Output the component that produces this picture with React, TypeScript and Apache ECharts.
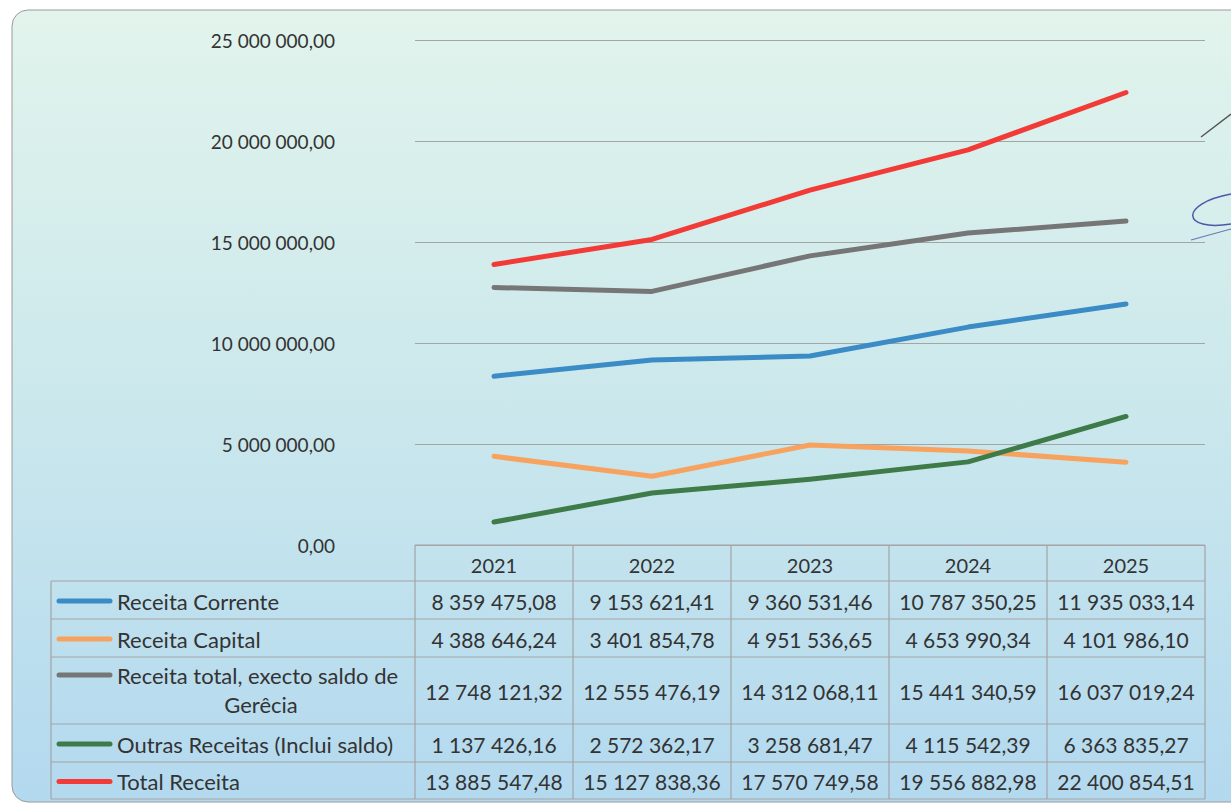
import React, { useEffect, useRef } from "react";
import * as echarts from "echarts";

const years = ["2021", "2022", "2023", "2024", "2025"];
const receitaCorrente = [8359475.08, 9153621.41, 9360531.46, 10787350.25, 11935033.14];
const receitaCapital = [4388646.24, 3401854.78, 4951536.65, 4653990.34, 4101986.1];
const receitaTotalSemSaldo = [12748121.32, 12555476.19, 14312068.11, 15441340.59, 16037019.24];
const outrasReceitas = [1137426.16, 2572362.17, 3258681.47, 4115542.39, 6363835.27];
const totalReceita = [13885547.48, 15127838.36, 17570749.58, 19556882.98, 22400854.51];

const seriesNames = [
  ["Receita Corrente"],
  ["Receita Capital"],
  ["Receita total, execto saldo de", "Gerêcia"],
  ["Outras Receitas (Inclui saldo)"],
  ["Total Receita"],
];
const seriesData = [receitaCorrente, receitaCapital, receitaTotalSemSaldo, outrasReceitas, totalReceita];
const seriesColors = ["#3b8bc6", "#f7a35f", "#767676", "#3f7b48", "#f23b36"];

const yTicks = { min: 0, max: 25000000, interval: 5000000 };

function fmt(v: number): string {
  const [i, d] = v.toFixed(2).split(".");
  return i.replace(/\B(?=(\d{3})+(?!\d))/g, " ") + "," + d;
}

const FONT = "Lato, 'Open Sans', sans-serif";
const TEXT = "#333333";
const BORDER = "#a3a3a3";

export default function App() {
  const ref = useRef<HTMLDivElement>(null);
  useEffect(() => {
    if (!ref.current) return;
    const chart = echarts.init(ref.current, null, { renderer: "svg" });

    const plotLeft = 415;
    const plotRight = 1205;
    const tableTop = 545;
    const colW = (plotRight - plotLeft) / years.length;
    const labelLeft = 51;
    const rowLines = [545, 581, 619, 657, 724, 762, 799];

    const g: any[] = [];
    g.push({
      type: "rect",
      z: -10,
      silent: true,
      shape: { x: 12, y: 10, width: 1260, height: 792, r: 16 },
      style: {
        fill: new echarts.graphic.LinearGradient(0, 0, 0, 1, [
          { offset: 0, color: "#e2f4ec" },
          { offset: 0.45, color: "#cde9ec" },
          { offset: 1, color: "#b3d9ef" },
        ]),
        stroke: "#9a9a9a",
        lineWidth: 1,
      },
    });

    rowLines.forEach((y, i) => {
      g.push({
        type: "line",
        silent: true,
        shape: { x1: i === 0 ? plotLeft : labelLeft, y1: y, x2: plotRight, y2: y },
        style: { stroke: BORDER, lineWidth: 1.2 },
      });
    });
    g.push({
      type: "line",
      silent: true,
      shape: { x1: labelLeft, y1: rowLines[1], x2: labelLeft, y2: rowLines[6] },
      style: { stroke: BORDER, lineWidth: 1.2 },
    });
    for (let c = 0; c <= years.length; c++) {
      const x = plotLeft + c * colW;
      g.push({
        type: "line",
        silent: true,
        shape: { x1: x, y1: tableTop, x2: x, y2: rowLines[6] },
        style: { stroke: BORDER, lineWidth: 1.2 },
      });
    }

    seriesData.forEach((data, r) => {
      const y0 = rowLines[r + 1];
      const y1 = rowLines[r + 2];
      const cy = (y0 + y1) / 2 + 1;
      const names = seriesNames[r];
      const swY = names.length > 1 ? y0 + 18 : cy;
      g.push({
        type: "line",
        silent: true,
        shape: { x1: 59, y1: swY, x2: 110, y2: swY },
        style: { stroke: seriesColors[r], lineWidth: 5, lineCap: "round" },
      });
      if (names.length > 1) {
        g.push({
          type: "text",
          silent: true,
          style: { text: names[0], x: 117, y: y0 + 18, fill: TEXT, font: `22px ${FONT}`, align: "left", verticalAlign: "middle" },
        });
        g.push({
          type: "text",
          silent: true,
          style: { text: names[1], x: 261, y: y0 + 47, fill: TEXT, font: `22px ${FONT}`, align: "center", verticalAlign: "middle" },
        });
      } else {
        g.push({
          type: "text",
          silent: true,
          style: { text: names[0], x: 117, y: cy, fill: TEXT, font: `22px ${FONT}`, align: "left", verticalAlign: "middle" },
        });
      }
      data.forEach((v, c) => {
        g.push({
          type: "text",
          silent: true,
          style: {
            text: fmt(v),
            x: plotLeft + (c + 0.5) * colW,
            y: cy,
            fill: TEXT,
            font: `21px ${FONT}`,
            align: "center",
            verticalAlign: "middle",
          },
        });
      });
    });

    g.push({
      type: "line",
      silent: true,
      shape: { x1: 1201, y1: 137, x2: 1231, y2: 114 },
      style: { stroke: "#555555", lineWidth: 1.5 },
    });
    g.push({
      type: "bezierCurve",
      silent: true,
      shape: { x1: 1231, y1: 194, cpx1: 1178, cpy1: 204, cpx2: 1182, cpy2: 232, x2: 1231, y2: 224 },
      style: { stroke: "#4a58a8", lineWidth: 1.5, fill: "none" },
    });
    g.push({
      type: "line",
      silent: true,
      shape: { x1: 1191, y1: 240, x2: 1231, y2: 229 },
      style: { stroke: "#6a76b6", lineWidth: 1.2 },
    });

    chart.setOption({
      animation: false,
      backgroundColor: "#ffffff",
      grid: { left: plotLeft, right: 1231 - plotRight, top: 40, bottom: 807 - tableTop, containLabel: false },
      xAxis: {
        type: "category",
        data: years,
        boundaryGap: true,
        axisLine: { show: false },
        axisTick: { show: false },
        axisLabel: { margin: 10, fontSize: 20, fontFamily: FONT, color: TEXT },
        splitLine: { show: false },
      },
      yAxis: {
        type: "value",
        min: yTicks.min,
        max: yTicks.max,
        interval: yTicks.interval,
        axisLine: { show: false },
        axisTick: { show: false },
        axisLabel: {
          margin: 80,
          fontSize: 19,
          fontFamily: FONT,
          color: TEXT,
          formatter: (v: number) => fmt(v),
        },
        splitLine: { lineStyle: { color: "#a5a5a5", width: 1.2 } },
      },
      series: seriesData.map((data, i) => ({
        type: "line",
        name: seriesNames[i].join(" "),
        data,
        symbol: "none",
        smooth: false,
        lineStyle: { color: seriesColors[i], width: 5, cap: "round", join: "round" },
        itemStyle: { color: seriesColors[i] },
        z: 2 + i,
      })),
      graphic: g,
    });

    return () => chart.dispose();
  }, []);

  return (
    <div
      ref={ref}
      style={{ position: "fixed", left: 0, top: 0, width: 1231, height: 807 }}
    />
  );
}
